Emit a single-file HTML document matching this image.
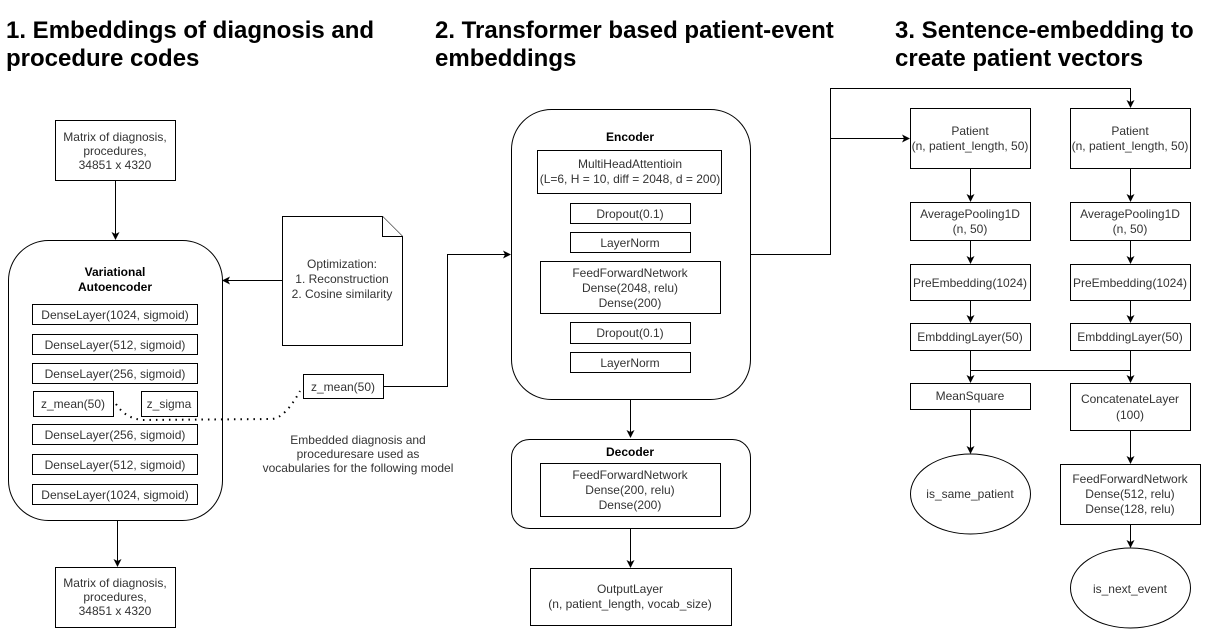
<!DOCTYPE html>
<html><head><meta charset="utf-8"><style>
body{margin:0;background:#fff}
svg{display:block}
text{font-family:"Liberation Sans",Arial,sans-serif;font-size:12px;fill:#333;text-anchor:middle}
.t{font-size:24px;font-weight:bold;fill:#000;text-anchor:start}
.b{font-weight:bold;fill:#000}
rect,ellipse,path.s{fill:#fff;stroke:#000;stroke-width:1}
line,polyline{stroke:#000;stroke-width:1;fill:none}
</style></head><body>
<svg width="1210" height="630" viewBox="0 0 1210 630" xmlns="http://www.w3.org/2000/svg">
<defs><marker id="a" markerWidth="8" markerHeight="8" refX="7" refY="4" orient="auto" markerUnits="userSpaceOnUse"><path d="M0,0 L8,4 L0,8 L2,4 z" fill="#000"/></marker></defs>

<text class="t" x="6" y="38">1. Embeddings of diagnosis and</text>
<text class="t" x="6" y="66">procedure codes</text>
<text class="t" x="435" y="38">2. Transformer based patient-event</text>
<text class="t" x="435" y="66">embeddings</text>
<text class="t" x="895" y="38">3. Sentence-embedding to</text>
<text class="t" x="895" y="66">create patient vectors</text>

<!-- Section 1 -->
<rect x="55.5" y="120.5" width="120" height="60"/>
<text x="115" y="141">Matrix of diagnosis,</text><text x="115" y="155">procedures,</text><text x="115" y="169">34851 x 4320</text>
<line x1="115.5" y1="180" x2="115.5" y2="239" marker-end="url(#a)"/>
<rect x="8.5" y="240.5" width="214" height="280" rx="40"/>
<text class="b" x="115" y="276">Variational</text><text class="b" x="115" y="291">Autoencoder</text>
<rect x="32.5" y="304.5" width="165" height="20"/><text x="115" y="319">DenseLayer(1024, sigmoid)</text>
<rect x="32.5" y="334.5" width="165" height="20"/><text x="115" y="349">DenseLayer(512, sigmoid)</text>
<rect x="32.5" y="363.5" width="165" height="20"/><text x="115" y="378">DenseLayer(256, sigmoid)</text>
<rect x="33.5" y="391.5" width="80" height="25"/><text x="73" y="408">z_mean(50)</text>
<rect x="141.5" y="391.5" width="56" height="25"/><text x="169" y="408">z_sigma</text>
<rect x="32.5" y="424.5" width="165" height="20"/><text x="115" y="439">DenseLayer(256, sigmoid)</text>
<rect x="32.5" y="454.5" width="165" height="20"/><text x="115" y="469">DenseLayer(512, sigmoid)</text>
<rect x="32.5" y="484.5" width="165" height="20"/><text x="115" y="499">DenseLayer(1024, sigmoid)</text>
<line x1="117.5" y1="520" x2="117.5" y2="566" marker-end="url(#a)"/>
<rect x="55.5" y="567.5" width="120" height="60"/>
<text x="115" y="587">Matrix of diagnosis,</text><text x="115" y="601">procedures,</text><text x="115" y="615">34851 x 4320</text>

<path class="s" d="M282.5,216.5 H382.5 L402.5,236.5 V345.5 H282.5 Z"/>
<path d="M382.5,216.5 V236.5 H402.5" fill="#fff" stroke="#000"/>
<text x="342" y="268">Optimization:</text><text x="342" y="283">1. Reconstruction</text><text x="342" y="298">2. Cosine similarity</text>
<line x1="282" y1="280.5" x2="223" y2="280.5" marker-end="url(#a)"/>

<rect x="303.5" y="374.5" width="80" height="24"/><text x="343" y="391">z_mean(50)</text>
<polyline points="383,386.5 447.5,386.5 447.5,254.5 510,254.5" marker-end="url(#a)"/>
<path d="M116,404 Q125,418 142,420 L272,419 Q285,418 300,391" fill="none" stroke="#000" stroke-width="2" stroke-dasharray="1.5,5"/>
<text x="358" y="444">Embedded diagnosis and</text><text x="358" y="458">proceduresare used as</text><text x="358" y="472">vocabularies for the following model</text>

<!-- Section 2 -->
<rect x="511.5" y="109.5" width="239" height="290" rx="40"/>
<text class="b" x="630" y="141">Encoder</text>
<rect x="537.5" y="150.5" width="184" height="43" stroke="#555"/>
<text x="630" y="168">MultiHeadAttentioin</text><text x="630" y="183">(L=6, H = 10, diff = 2048, d = 200)</text>
<rect x="570.5" y="203.5" width="120" height="20"/><text x="630" y="218">Dropout(0.1)</text>
<rect x="570.5" y="232.5" width="120" height="20"/><text x="630" y="247">LayerNorm</text>
<rect x="540.5" y="261.5" width="180" height="52"/>
<text x="630" y="277">FeedForwardNetwork</text><text x="630" y="292">Dense(2048, relu)</text><text x="630" y="307">Dense(200)</text>
<rect x="570.5" y="322.5" width="120" height="21"/><text x="630" y="337">Dropout(0.1)</text>
<rect x="570.5" y="352.5" width="120" height="20"/><text x="630" y="367">LayerNorm</text>
<line x1="630.5" y1="399" x2="630.5" y2="437" marker-end="url(#a)"/>
<rect x="511.5" y="439.5" width="239" height="89" rx="18"/>
<text class="b" x="630" y="456">Decoder</text>
<rect x="540.5" y="463.5" width="180" height="53"/>
<text x="630" y="479">FeedForwardNetwork</text><text x="630" y="494">Dense(200, relu)</text><text x="630" y="509">Dense(200)</text>
<line x1="630.5" y1="528" x2="630.5" y2="567" marker-end="url(#a)"/>
<rect x="530.5" y="568.5" width="201" height="57"/>
<text x="630" y="593">OutputLayer</text><text x="630" y="608">(n, patient_length, vocab_size)</text>

<!-- Section 3 -->
<polyline points="750,254.5 830.5,254.5 830.5,88.5 1130.5,88.5 1130.5,107" marker-end="url(#a)"/>
<line x1="830" y1="138.5" x2="909" y2="138.5" marker-end="url(#a)"/>
<g>
<rect x="910.5" y="108.5" width="120" height="60"/><text x="970" y="135">Patient</text><text x="970" y="150">(n, patient_length, 50)</text>
<rect x="1070.5" y="108.5" width="120" height="60"/><text x="1130" y="135">Patient</text><text x="1130" y="150">(n, patient_length, 50)</text>
<line x1="970.5" y1="168" x2="970.5" y2="201" marker-end="url(#a)"/>
<line x1="1130.5" y1="168" x2="1130.5" y2="201" marker-end="url(#a)"/>
<rect x="910.5" y="202.5" width="120" height="38"/><text x="970" y="218">AveragePooling1D</text><text x="970" y="233">(n, 50)</text>
<rect x="1070.5" y="202.5" width="120" height="38"/><text x="1130" y="218">AveragePooling1D</text><text x="1130" y="233">(n, 50)</text>
<line x1="970.5" y1="240" x2="970.5" y2="263" marker-end="url(#a)"/>
<line x1="1130.5" y1="240" x2="1130.5" y2="263" marker-end="url(#a)"/>
<rect x="910.5" y="264.5" width="120" height="36"/><text x="970" y="287">PreEmbedding(1024)</text>
<rect x="1070.5" y="264.5" width="120" height="36"/><text x="1130" y="287">PreEmbedding(1024)</text>
<line x1="970.5" y1="300" x2="970.5" y2="322" marker-end="url(#a)"/>
<line x1="1130.5" y1="300" x2="1130.5" y2="322" marker-end="url(#a)"/>
<rect x="910.5" y="323.5" width="120" height="27"/><text x="970" y="341">EmbddingLayer(50)</text>
<rect x="1070.5" y="323.5" width="120" height="27"/><text x="1130" y="341">EmbddingLayer(50)</text>
<polyline points="970.5,350 970.5,382" marker-end="url(#a)"/>
<polyline points="1130.5,350 1130.5,382" marker-end="url(#a)"/>
<line x1="970" y1="370.5" x2="1131" y2="370.5"/>
<rect x="910.5" y="383.5" width="120" height="26"/><text x="970" y="400">MeanSquare</text>
<rect x="1070.5" y="383.5" width="120" height="47"/><text x="1130" y="403">ConcatenateLayer</text><text x="1130" y="419">(100)</text>
<line x1="970.5" y1="409" x2="970.5" y2="453" marker-end="url(#a)"/>
<ellipse cx="970.5" cy="494" rx="60" ry="40"/><text x="970" y="498">is_same_patient</text>
<line x1="1130.5" y1="430" x2="1130.5" y2="463" marker-end="url(#a)"/>
<rect x="1060.5" y="464.5" width="140" height="60"/>
<text x="1130" y="483">FeedForwardNetwork</text><text x="1130" y="498">Dense(512, relu)</text><text x="1130" y="513">Dense(128, relu)</text>
<line x1="1130.5" y1="524" x2="1130.5" y2="547" marker-end="url(#a)"/>
<ellipse cx="1130.5" cy="588" rx="60" ry="40"/><text x="1130" y="593">is_next_event</text>
</g>
</svg>
</body></html>
